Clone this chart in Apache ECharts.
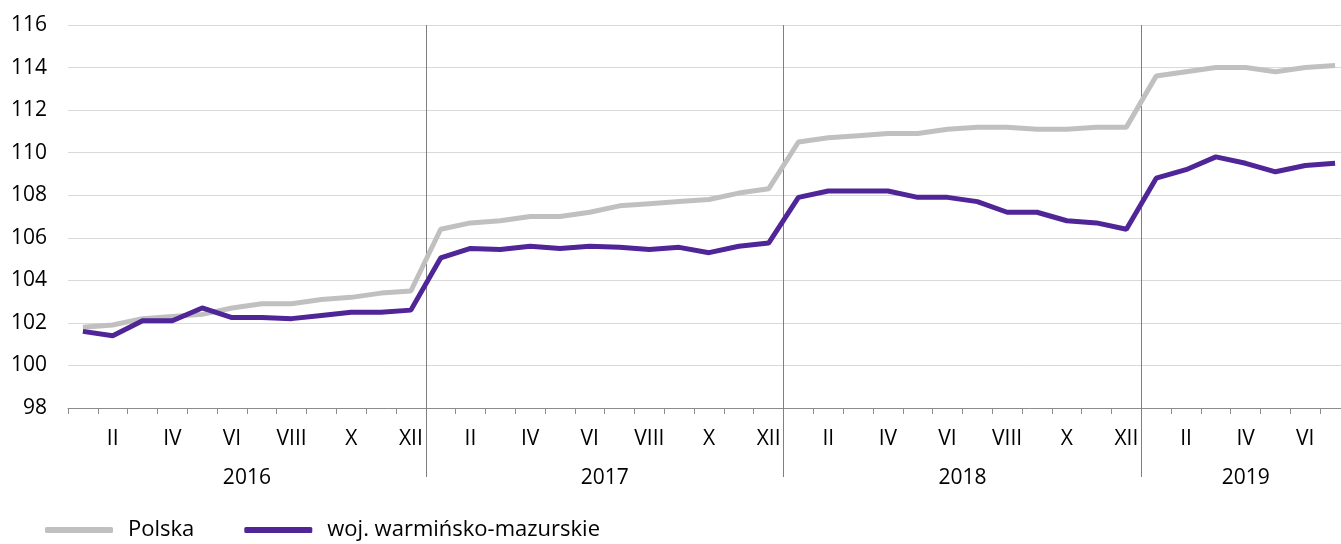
<!DOCTYPE html>
<html>
<head>
<meta charset="utf-8">
<script src="https://cdn.jsdelivr.net/npm/echarts@6/dist/echarts.min.js"></script>
<style>
html,body{margin:0;padding:0;background:#fff;overflow:hidden;}
#chart{width:1350px;height:544px;}
</style>
</head>
<body>
<div id="chart"></div>
<script>
const years = ['2016', '2017', '2018', '2019'];
const monthsPerYear = [12, 12, 12, 7];
const romanMonths = ['I','II','III','IV','V','VI','VII','VIII','IX','X','XI','XII'];
const seriesNames = ['Polska', 'woj. warmińsko-mazurskie'];
const polska = [
  101.8, 101.9, 102.2, 102.3, 102.4, 102.7, 102.9, 102.9, 103.1, 103.2, 103.4, 103.5,
  106.4, 106.7, 106.8, 107.0, 107.0, 107.2, 107.5, 107.6, 107.7, 107.8, 108.1, 108.3,
  110.5, 110.7, 110.8, 110.9, 110.9, 111.1, 111.2, 111.2, 111.1, 111.1, 111.2, 111.2,
  113.6, 113.8, 114.0, 114.0, 113.8, 114.0, 114.1
];
const warminskoMazurskie = [
  101.6, 101.4, 102.1, 102.1, 102.7, 102.25, 102.25, 102.2, 102.35, 102.5, 102.5, 102.6,
  105.05, 105.5, 105.45, 105.6, 105.5, 105.6, 105.55, 105.45, 105.55, 105.3, 105.6, 105.75,
  107.9, 108.2, 108.2, 108.2, 107.9, 107.9, 107.7, 107.2, 107.2, 106.8, 106.7, 106.4,
  108.8, 109.2, 109.8, 109.5, 109.1, 109.4, 109.5
];
const yTicks = { min: 98, max: 116, interval: 2 };

// build categories
const categories = [];
const monthIndex = [];
years.forEach((y, yi) => {
  for (let m = 0; m < monthsPerYear[yi]; m++) {
    categories.push(romanMonths[m] + ' ' + y);
    monthIndex.push(m);
  }
});
const yearStarts = [];
const yearCenters = [];
let acc = 0;
monthsPerYear.forEach(n => { yearStarts.push(acc); yearCenters.push(acc + n / 2); acc += n; });
const totalMonths = acc;
const boundaries = yearStarts.slice(1);

const FONT = '"Open Sans", "Noto Sans", sans-serif';
const TXT = '#000';

const chart = echarts.init(document.getElementById('chart'), null, { renderer: 'canvas' });
chart.setOption({
  animation: false,
  backgroundColor: '#fff',
  textStyle: { fontFamily: FONT },
  grid: { left: 68, top: 25, right: 0, height: 383, containLabel: false },
  legend: {
    left: 45, top: 519, padding: 0,
    icon: 'roundRect',
    itemWidth: 68, itemHeight: 6,
    itemGap: 50,
    textStyle: { fontFamily: FONT, fontSize: 22, color: TXT, padding: [0, 0, 0, 10] },
    data: seriesNames
  },
  xAxis: [
    {
      type: 'category',
      data: categories,
      boundaryGap: true,
      axisLine: { show: true, lineStyle: { color: '#8c8c8c', width: 1 } },
      axisTick: { show: true, interval: 0, length: 6, lineStyle: { color: '#8c8c8c' } },
      axisLabel: {
        interval: 0, fontFamily: FONT, fontSize: 21, color: TXT,
        margin: 31, verticalAlign: 'middle',
        formatter: (v, i) => (monthIndex[i] % 2 === 1 ? romanMonths[monthIndex[i]] : '')
      },
      splitLine: { show: false }
    },
    {
      type: 'value',
      min: 0, max: totalMonths,
      position: 'bottom',
      offset: 69,
      axisLine: { show: false },
      splitLine: { show: false },
      axisTick: {
        show: true, inside: true, length: 452,
        customValues: boundaries,
        lineStyle: { color: '#7f7f7f', width: 1 }
      },
      axisLabel: {
        show: true, customValues: yearCenters,
        fontFamily: FONT, fontSize: 21, color: TXT,
        margin: 1, verticalAlign: 'middle',
        formatter: (v) => {
          const i = yearCenters.findIndex(c => Math.abs(c - v) < 1e-6);
          return i >= 0 ? years[i] : '';
        }
      }
    }
  ],
  yAxis: {
    type: 'value',
    min: yTicks.min, max: yTicks.max, interval: yTicks.interval,
    axisLine: { show: false },
    axisTick: { show: false },
    axisLabel: { fontFamily: FONT, fontSize: 21, color: TXT, margin: 21 },
    splitLine: { show: true, lineStyle: { color: '#d9d9d9', width: 1 } }
  },
  series: [
    {
      name: seriesNames[0], type: 'line', data: polska,
      symbol: 'none', lineStyle: { color: '#c0c0c0', width: 5 },
      itemStyle: { color: '#c0c0c0' }, z: 2
    },
    {
      name: seriesNames[1], type: 'line', data: warminskoMazurskie,
      symbol: 'none', lineStyle: { color: '#4f2597', width: 5 },
      itemStyle: { color: '#4f2597' }, z: 3
    }
  ]
});
</script>
</body>
</html>
